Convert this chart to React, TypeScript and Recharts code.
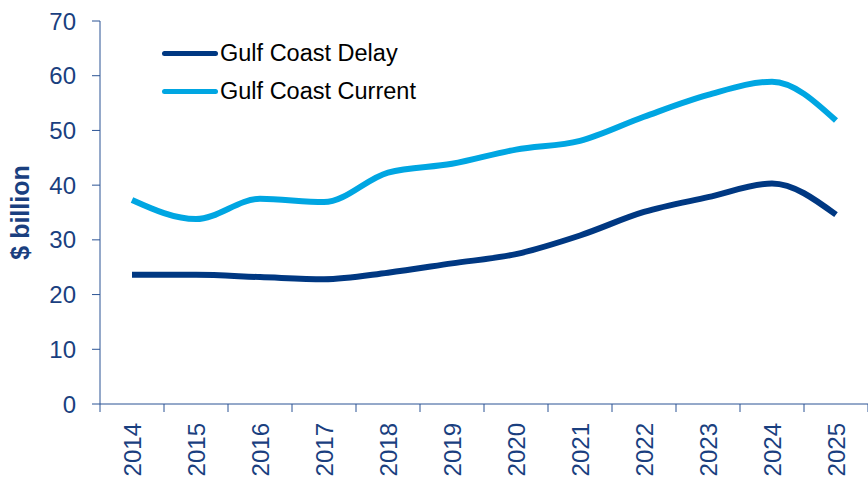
import React from "react";
import { LineChart, Line, XAxis, YAxis } from "recharts";

const years = ["2014", "2015", "2016", "2017", "2018", "2019", "2020", "2021", "2022", "2023", "2024", "2025"];
const gulfCoastDelay = [23.6, 23.6, 23.2, 22.8, 24.0, 25.7, 27.4, 30.8, 35.1, 37.8, 40.3, 34.6];
const gulfCoastCurrent = [37.3, 33.8, 37.5, 36.9, 42.3, 43.9, 46.5, 48.1, 52.5, 56.5, 58.9, 51.8];
const yTicks = [0, 10, 20, 30, 40, 50, 60, 70];

const data = years.map((year, i) => ({
  year,
  delay: gulfCoastDelay[i],
  current: gulfCoastCurrent[i],
}));

const WIDTH = 868;
const HEIGHT = 482;
const Y_AXIS_W = 100;
const AXIS = "#2B5394";
const TEXT = "#1A3F7F";
const DELAY = "#003882";
const CURRENT = "#00A6E2";
const FONT = "Arial, 'Liberation Sans', sans-serif";

const band = (WIDTH - Y_AXIS_W) / years.length;

function YearTick(props: any) {
  const { x, y, payload, index } = props;
  const top = y - 8; // axis line
  return (
    <g>
      <line x1={x - band / 2} y1={top} x2={x - band / 2} y2={top + 8} stroke={AXIS} strokeWidth={1} />
      {index === years.length - 1 && (
        <line x1={x + band / 2} y1={top} x2={x + band / 2} y2={top + 8} stroke={AXIS} strokeWidth={1} />
      )}
      <text
        transform={`translate(${x},${top + 19}) rotate(-90)`}
        textAnchor="end"
        dominantBaseline="central"
        fill={TEXT}
        fontSize={24}
        fontFamily={FONT}
      >
        {payload.value}
      </text>
    </g>
  );
}

const legendItems = [
  { label: "Gulf Coast Delay", color: DELAY },
  { label: "Gulf Coast Current", color: CURRENT },
];

export default function App() {
  return (
    <div style={{ position: "absolute", left: 0, top: 0, width: WIDTH, height: HEIGHT, background: "#fff" }}>
      <LineChart width={WIDTH} height={HEIGHT} data={data} margin={{ top: 21, right: 0, left: 0, bottom: 0 }}>
        <XAxis
          dataKey="year"
          height={78}
          padding={{ left: band / 2, right: band / 2 }}
          axisLine={{ stroke: AXIS }}
          tickLine={false}
          tick={<YearTick />}
          interval={0}
        />
        <YAxis
          width={Y_AXIS_W}
          domain={[0, 70]}
          ticks={yTicks}
          axisLine={{ stroke: AXIS }}
          tickLine={{ stroke: AXIS }}
          tickSize={8}
          tickMargin={16}
          tick={{ fill: TEXT, fontSize: 24, fontFamily: FONT }}
          label={{
            value: "$ billion",
            angle: -90,
            position: "insideLeft",
            offset: 20,
            style: { fill: TEXT, fontSize: 25, fontWeight: "bold", fontFamily: FONT, textAnchor: "middle" },
          }}
        />
        <Line
          type="monotone"
          dataKey="delay"
          stroke={DELAY}
          strokeWidth={6}
          dot={false}
          isAnimationActive={false}
        />
        <Line
          type="monotone"
          dataKey="current"
          stroke={CURRENT}
          strokeWidth={6}
          dot={false}
          isAnimationActive={false}
        />
      </LineChart>
      <div style={{ position: "absolute", left: 162, top: 34, fontFamily: FONT, fontSize: 23.5, color: "#000" }}>
        {legendItems.map((it) => (
          <div key={it.label} style={{ display: "flex", alignItems: "center", height: 38 }}>
            <span
              style={{
                display: "inline-block",
                width: 56,
                height: 5,
                borderRadius: 3,
                background: it.color,
                marginRight: 2,
              }}
            />
            <span>{it.label}</span>
          </div>
        ))}
      </div>
    </div>
  );
}
